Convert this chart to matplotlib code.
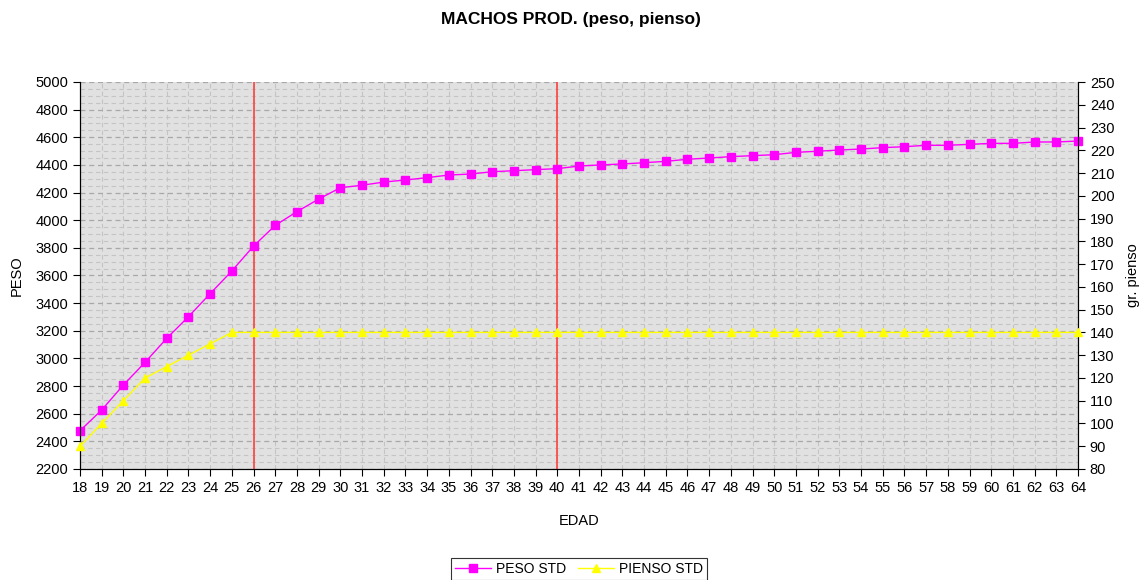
import matplotlib
matplotlib.use('Agg')
import matplotlib.pyplot as plt
import numpy as np
from matplotlib.ticker import MultipleLocator

plt.rcParams['font.family'] = ['Liberation Sans', 'DejaVu Sans']

# data
edad = list(range(18, 65))
peso_std = [2477, 2627, 2808, 2972, 3146, 3302, 3469, 3633, 3813, 3963,
            4062, 4153, 4235, 4253, 4276, 4291, 4308, 4327, 4334, 4351,
            4358, 4366, 4373, 4392, 4400, 4407, 4416, 4426, 4441, 4450,
            4460, 4467, 4474, 4491, 4499, 4508, 4515, 4525, 4532, 4542,
            4542, 4549, 4556, 4556, 4566, 4566, 4573]
pienso_std = [90, 100, 110, 120, 125, 130, 135, 140] + [140] * 39
marcas = [26, 40]

fig = plt.figure(figsize=(11.42, 5.8), dpi=100)
ax = fig.add_axes([80 / 1142, 1 - 469 / 580, 998 / 1142, 387 / 580])
ax2 = ax.twinx()

ax.set_facecolor('#e1e1e1')
ax.set_xlim(18, 64)
ax.set_ylim(2200, 5000)
ax2.set_ylim(80, 250)

ax.yaxis.set_major_locator(MultipleLocator(200))
ax.yaxis.set_minor_locator(MultipleLocator(50))
ax.xaxis.set_major_locator(MultipleLocator(1))
ax2.yaxis.set_major_locator(MultipleLocator(10))

ax.grid(True, which='major', axis='y', color='#a8a8a8', linestyle=(0, (4, 3)), linewidth=0.9)
ax.grid(True, which='minor', axis='y', color='#c4c4c4', linestyle=(0, (4, 3)), linewidth=0.8)
ax.grid(True, which='major', axis='x', color='#c4c4c4', linestyle=(0, (4, 3)), linewidth=0.8)
ax.set_axisbelow(True)

for e in marcas:
    ax.axvline(e, color='#ff4040', linewidth=1.2, zorder=3)

l1, = ax.plot(edad, peso_std, color='#ff00ff', marker='s', markersize=5.5,
              linewidth=1, label='PESO STD', zorder=4, clip_on=False)
l2, = ax2.plot(edad, pienso_std, color='#ffff00', marker='^', markersize=5.5,
               linewidth=1, label='PIENSO STD', zorder=4, clip_on=False)

for a in (ax, ax2):
    a.spines['top'].set_visible(False)
    for s in ('left', 'right', 'bottom'):
        a.spines[s].set_color('black')
ax.tick_params(axis='both', which='major', direction='out', length=5, labelsize=10.5, colors='black')
ax.tick_params(axis='y', which='minor', length=0)
ax2.tick_params(axis='y', direction='out', length=5, labelsize=10.5)

ax.set_xlabel('EDAD', fontsize=10.5, labelpad=14)
ax.set_ylabel('PESO', fontsize=10.5, labelpad=8)
ax2.set_ylabel('gr. pienso', fontsize=10.5, rotation=90, labelpad=8)

fig.suptitle('MACHOS PROD. (peso, pienso)', fontsize=12.5, fontweight='bold', y=0.98)

leg = fig.legend(handles=[l1, l2], loc='lower center', bbox_to_anchor=(0.507, -0.012),
                 ncol=2, fontsize=10, frameon=True, fancybox=False, edgecolor='black',
                 handlelength=2.6, columnspacing=0.8, handletextpad=0.4, borderpad=0.3)
leg.get_frame().set_linewidth(0.8)

fig.savefig('out.png', dpi=100)
